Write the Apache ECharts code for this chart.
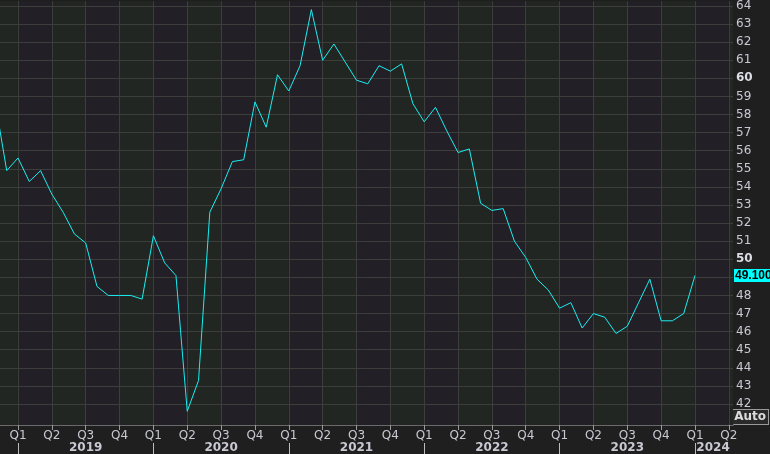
<!DOCTYPE html>
<html>
<head>
<meta charset="utf-8">
<script src="https://cdn.jsdelivr.net/npm/echarts@6/dist/echarts.min.js"></script>
<style>
  html, body { margin: 0; padding: 0; background: #1f1f1f; }
  #chart { width: 770px; height: 454px; }
</style>
</head>
<body>
<div id="chart"></div>
<script>
// monthly values, Nov 2018 .. Jan 2024 (first point is cut by the left edge)
var startMonth = -2; // Nov 2018, month 0 = Jan 2019
var values = [
  58.6, 54.9,
  55.6, 54.3, 54.9, 53.6, 52.6, 51.4, 50.9, 48.5, 48.0, 48.0, 48.0, 47.8,
  51.3, 49.8, 49.1, 41.6, 43.3, 52.6, 53.9, 55.4, 55.5, 58.7, 57.3, 60.2,
  59.3, 60.7, 63.8, 61.0, 61.9, 60.9, 59.9, 59.7, 60.7, 60.4, 60.8, 58.6,
  57.6, 58.4, 57.1, 55.9, 56.1, 53.1, 52.7, 52.8, 51.0, 50.1, 48.9, 48.3,
  47.3, 47.6, 46.2, 47.0, 46.8, 45.9, 46.3, 47.6, 48.9, 46.6, 46.6, 47.0,
  49.1
];
var quarterTicks = [0, 3, 6, 9, 12, 15, 18, 21, 24, 27, 30, 33, 36, 39, 42, 45, 48, 51, 54, 57, 60, 63];
var quarterLabels = ['Q1', 'Q2', 'Q3', 'Q4'];
var yearTicks = [0, 12, 24, 36, 48, 60];
var yearLabelPos = [6, 18, 30, 42, 54, 61.6];
var yearLabels = ['2019', '2020', '2021', '2022', '2023', '2024'];
var yTicks = [42, 43, 44, 45, 46, 47, 48, 49, 50, 51, 52, 53, 54, 55, 56, 57, 58, 59, 60, 61, 62, 63, 64];
var boldTicks = [50, 60];
var lastValue = values[values.length - 1];

var lineData = values.map(function (v, i) { return [startMonth + i, v]; });

// alternating quarter shading
var bands = [];
for (var q = -3; q < 66; q += 3) {
  var odd = ((q / 3) % 2 + 2) % 2 === 0;
  bands.push([
    { xAxis: q, itemStyle: { color: odd ? '#221f26' : '#222622' } },
    { xAxis: q + 3 }
  ]);
}

var gridLines = [];
quarterTicks.forEach(function (t) { gridLines.push({ xAxis: t }); });
yTicks.forEach(function (t) { gridLines.push({ yAxis: t }); });

var labelColor = '#c9c9d3';
var fontFam = 'DejaVu Sans';

var autoBox = {
  type: 'text',
  right: 1,
  top: 409,
  style: {
    text: 'Auto',
    fill: '#dcdcdc',
    font: 'bold 12px DejaVu Sans',
    backgroundColor: '#2a2a2a',
    borderColor: '#9a9a9a',
    borderWidth: 1,
    padding: [1, 2]
  }
};

var chart = echarts.init(document.getElementById('chart'));
chart.setOption({
  animation: false,
  backgroundColor: '#1f1f1f',
  grid: { left: 0, right: 37, top: 0, bottom: 29, containLabel: false },
  xAxis: [{
    type: 'value',
    min: -1.595,
    max: 63.37,
    splitLine: { show: false },
    axisLine: { show: true, lineStyle: { color: '#6a6a6a', width: 2 } },
    axisTick: { show: true, customValues: quarterTicks, length: 5, lineStyle: { color: '#9a9a9a' } },
    axisLabel: {
      customValues: quarterTicks,
      margin: 5,
      color: labelColor,
      fontFamily: fontFam,
      fontSize: 12,
      formatter: function (v) { return quarterLabels[Math.round(v / 3) % 4]; }
    }
  }, {
    type: 'value',
    position: 'bottom',
    offset: 18,
    min: -1.595,
    max: 63.37,
    splitLine: { show: false },
    axisLine: { show: false },
    axisTick: { show: true, customValues: yearTicks, length: 11, lineStyle: { color: '#bdbdbd' } },
    axisLabel: {
      customValues: yearLabelPos,
      margin: -1,
      color: labelColor,
      fontFamily: fontFam,
      fontSize: 12,
      fontWeight: 'bold',
      formatter: function (v) { return yearLabels[yearLabelPos.indexOf(v)]; }
    }
  }],
  yAxis: {
    type: 'value',
    position: 'right',
    min: 40.84,
    max: 64.26,
    splitLine: { show: false },
    axisLine: { show: true, lineStyle: { color: '#777777' } },
    axisTick: { show: true, customValues: yTicks, length: 5, lineStyle: { color: '#bdbdbd' } },
    axisLabel: {
      customValues: yTicks,
      margin: 3,
      color: labelColor,
      fontFamily: fontFam,
      fontSize: 12,
      formatter: function (v) {
        return boldTicks.indexOf(v) >= 0 ? '{b|' + v + '}' : String(v);
      },
      rich: { b: { fontWeight: 'bold', fontSize: 12, color: '#dcdce6', fontFamily: fontFam } }
    }
  },
  series: [{
    type: 'line',
    data: lineData,
    showSymbol: false,
    clip: true,
    lineStyle: { color: '#1aeef0', width: 1 },
    markArea: { silent: true, data: bands },
    markLine: {
      silent: true,
      symbol: 'none',
      label: { show: false },
      lineStyle: { color: '#3c3e3c', width: 1, type: 'solid' },
      data: gridLines
    },
    z: 5
  }],
  graphic: [autoBox]
});

// last value tag on the right axis
var tagY = chart.convertToPixel({ yAxisIndex: 0 }, lastValue);
chart.setOption({
  graphic: [autoBox, {
    type: 'text',
    x: 734,
    y: tagY,
    z: 100,
    style: {
      text: lastValue.toFixed(3),
      fill: '#000000',
      font: 'bold 12px Liberation Sans',
      backgroundColor: '#00ffff',
      padding: [1, 1, 0, 1],
      verticalAlign: 'middle'
    }
  }]
});
</script>
</body>
</html>
